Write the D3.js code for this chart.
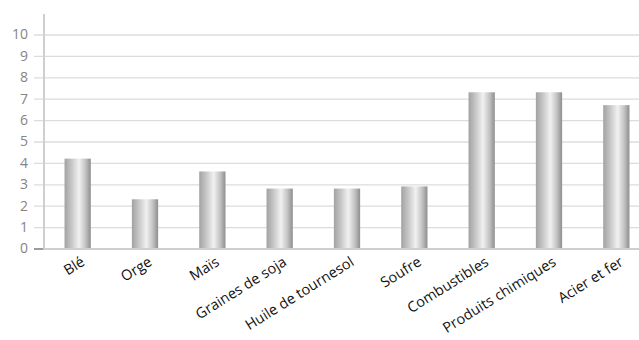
<!DOCTYPE html>
<html>
<head>
<meta charset="utf-8">
<script src="https://cdn.jsdelivr.net/npm/d3@7"></script>
<style>
  html, body { margin: 0; padding: 0; background: #fff; }
  svg { display: block; }
</style>
</head>
<body>
<svg id="chart" width="639" height="340"></svg>
<script>
// Produits exportés (valeurs)
const categories = ["Blé", "Orge", "Maïs", "Graines de soja", "Huile de tournesol", "Soufre", "Combustibles", "Produits chimiques", "Acier et fer"];
const values = [4.2, 2.3, 3.6, 2.8, 2.8, 2.9, 7.3, 7.3, 6.7];
const yTicks = [0, 1, 2, 3, 4, 5, 6, 7, 8, 9, 10];

const svg = d3.select("#chart");
const plotLeft = 44, plotRight = 650, plotBottom = 248.5, plotTop = 14;

const x = d3.scaleBand().domain(categories).range([plotLeft, plotRight]).paddingInner(0.61).paddingOuter(0.305);
const y = d3.scaleLinear().domain([0, 10]).range([plotBottom, 34.5]);

// Metallic horizontal gradient for the bars
const grad = svg.append("defs").append("linearGradient")
  .attr("id", "metal").attr("x1", "0%").attr("x2", "100%").attr("y1", "0%").attr("y2", "0%");
[[0, "#a2a2a2"], [0.25, "#c4c4c4"], [0.55, "#f1f1f1"], [0.8, "#c2c2c2"], [1, "#8e8e8e"]]
  .forEach(([o, c]) => grad.append("stop").attr("offset", o).attr("stop-color", c));

// Gridlines with left tick extensions
const yAxis = d3.axisLeft(y).tickValues(yTicks).tickSize(-(639 - plotLeft)).tickPadding(16).tickFormat(d3.format("d"));
const gy = svg.append("g").attr("transform", `translate(${plotLeft},0)`).call(yAxis);
gy.select(".domain").remove();
gy.selectAll(".tick line").attr("x1", -10).attr("stroke", "#dcdcdc").attr("stroke-width", 1.3);
gy.selectAll(".tick").filter(d => d === 0).select("line").attr("stroke", "#666").attr("x2", 0);
gy.selectAll(".tick text")
  .attr("fill", "#858585").attr("font-family", "'Open Sans', sans-serif").attr("font-size", 14);

// Bars
svg.append("g").selectAll("rect").data(values).join("rect")
  .attr("x", (d, i) => x(categories[i]))
  .attr("width", x.bandwidth())
  .attr("y", d => y(d))
  .attr("height", d => y(0) - y(d))
  .attr("fill", "url(#metal)");

// Axis lines
svg.append("line").attr("x1", plotLeft).attr("x2", plotLeft).attr("y1", plotTop).attr("y2", plotBottom + 1)
  .attr("stroke", "#cfcfcf").attr("stroke-width", 2);
svg.append("line").attr("x1", plotLeft).attr("x2", 639).attr("y1", plotBottom + 0.5).attr("y2", plotBottom + 0.5)
  .attr("stroke", "#cfcfcf").attr("stroke-width", 2);

// Category labels, rotated
svg.append("g").selectAll("text").data(categories).join("text")
  .attr("transform", d => `translate(${x(d) + x.bandwidth() / 2 + 8},${plotBottom + 16}) rotate(-32)`)
  .attr("text-anchor", "end")
  .attr("font-family", "'Open Sans', sans-serif")
  .attr("font-size", 14.5)
  .attr("fill", "#111")
  .text(d => d);
</script>
</body>
</html>
